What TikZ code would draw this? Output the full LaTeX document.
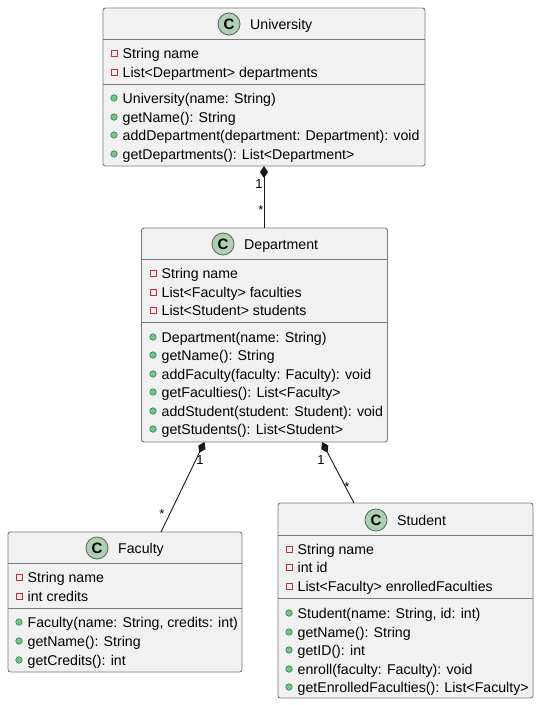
\documentclass[tikz,border=0pt]{standalone}
\usepackage{fontspec}
\setmainfont{Liberation Sans}
\usetikzlibrary{arrows.meta}

\definecolor{boxfill}{HTML}{F1F1F1}
\definecolor{boxline}{HTML}{7A7A7A}
\definecolor{ink}{HTML}{181818}
\definecolor{iconfill}{HTML}{ADD1B2}
\definecolor{privred}{HTML}{C82930}
\definecolor{pubfill}{HTML}{84BE84}
\definecolor{publine}{HTML}{038048}

\tikzset{
  classbox/.style={draw=boxline, fill=boxfill, line width=0.9pt, rounded corners=2.5pt,
    inner sep=0pt, outer sep=0pt, anchor=north west},
  sepline/.style={draw=boxline, line width=0.9pt},
  classicon/.style={circle, draw=ink!70, fill=iconfill, line width=0.8pt, minimum size=22pt,
    inner sep=0pt, font=\fontsize{15}{15}\selectfont\bfseries},
  titletext/.style={anchor=base west, inner sep=0pt},
  rowtext/.style={anchor=base west, inner sep=0pt},
  privmark/.style={rectangle, draw=privred, line width=0.8pt, minimum size=6pt, inner sep=0pt},
  pubmark/.style={circle, draw=publine, fill=pubfill, line width=0.5pt, minimum size=6.5pt, inner sep=0pt},
  composition/.style={draw=ink, line width=0.9pt, {Diamond[length=12pt,width=8pt,fill=ink]}-},
  mult/.style={inner sep=0pt, font=\fontsize{13}{13}\selectfont}
}

% one attribute row (private) and one operation row (public): left edge, row centre, text
\newcommand\privrow[3]{%
  \node[privmark] at (#1+11,#2) {};
  \node[rowtext] at (#1+19.5,#2+5) {#3};}
\newcommand\pubrow[3]{%
  \node[pubmark] at (#1+11,#2) {};
  \node[rowtext] at (#1+19.5,#2+5) {#3};}

\begin{document}
\begin{tikzpicture}[x=1pt, y=-1pt, font=\fontsize{14.15}{16}\selectfont]
\useasboundingbox (0,0) rectangle (540,705);

% ---------- University ----------
\node[classbox, minimum width=322pt, minimum height=158pt] (univ) at (103,8) {};
\draw[sepline] (103,39) -- (425,39);
\draw[sepline] (103,84) -- (425,84);
\node[classicon] (univicon) at (229,24) {C};
\node[titletext] (univtitle) at (250,29) {University};
\privrow{103}{53}{String name}
\privrow{103}{72}{List<Department> departments}
\pubrow{103}{98}{University(name: String)}
\pubrow{103}{117}{getName(): String}
\pubrow{103}{135}{addDepartment(department: Department): void}
\pubrow{103}{154}{getDepartments(): List<Department>}

% ---------- Department ----------
\node[classbox, minimum width=246pt, minimum height=214pt] (dept) at (141.5,228) {};
\draw[sepline] (141.5,259) -- (387.5,259);
\draw[sepline] (141.5,322) -- (387.5,322);
\node[classicon] (depticon) at (223,244) {C};
\node[titletext] (depttitle) at (244,249) {Department};
\privrow{142}{273}{String name}
\privrow{142}{292}{List<Faculty> faculties}
\privrow{142}{310}{List<Student> students}
\pubrow{142}{337}{Department(name: String)}
\pubrow{142}{355}{getName(): String}
\pubrow{142}{374}{addFaculty(faculty: Faculty): void}
\pubrow{142}{392}{getFaculties(): List<Faculty>}
\pubrow{142}{411}{addStudent(student: Student): void}
\pubrow{142}{429}{getStudents(): List<Student>}

% ---------- Faculty ----------
\node[classbox, minimum width=234pt, minimum height=140pt] (fac) at (8,532) {};
\draw[sepline] (8,563) -- (242,563);
\draw[sepline] (8,608) -- (242,608);
\node[classicon] (facicon) at (97,548) {C};
\node[titletext] (factitle) at (118,553) {Faculty};
\privrow{8}{577}{String name}
\privrow{8}{596}{int credits}
\pubrow{8}{622}{Faculty(name: String, credits: int)}
\pubrow{8}{641}{getName(): String}
\pubrow{8}{660}{getCredits(): int}

% ---------- Student ----------
\node[classbox, minimum width=255pt, minimum height=195pt] (stud) at (278,503) {};
\draw[sepline] (278,535) -- (533,535);
\draw[sepline] (278,598) -- (533,598);
\node[classicon] (studicon) at (376,520) {C};
\node[titletext] (studtitle) at (397,525) {Student};
\privrow{278}{549}{String name}
\privrow{278}{567}{int id}
\privrow{278}{586}{List<Faculty> enrolledFaculties}
\pubrow{278}{613}{Student(name: String, id: int)}
\pubrow{278}{632}{getName(): String}
\pubrow{278}{650}{getID(): int}
\pubrow{278}{669}{enroll(faculty: Faculty): void}
\pubrow{278}{687}{getEnrolledFaculties(): List<Faculty>}

% ---------- compositions ----------
\draw[composition] (univ.south) -- (univ.south |- dept.north);
\node[mult] (um1) at (259,184) {1};
\node[mult] (um2) at (261,210) {*};

\draw[composition] ([xshift=-60pt]dept.south) -- ([xshift=36pt]fac.north);
\node[mult] (fm1) at (200,460) {1};
\node[mult] (fm2) at (162,514) {*};

\draw[composition] ([xshift=57.5pt]dept.south) -- ([xshift=-51.5pt]stud.north);
\node[mult] (sm1) at (321,460) {1};
\node[mult] (sm2) at (347,487) {*};
\end{tikzpicture}
\end{document}
